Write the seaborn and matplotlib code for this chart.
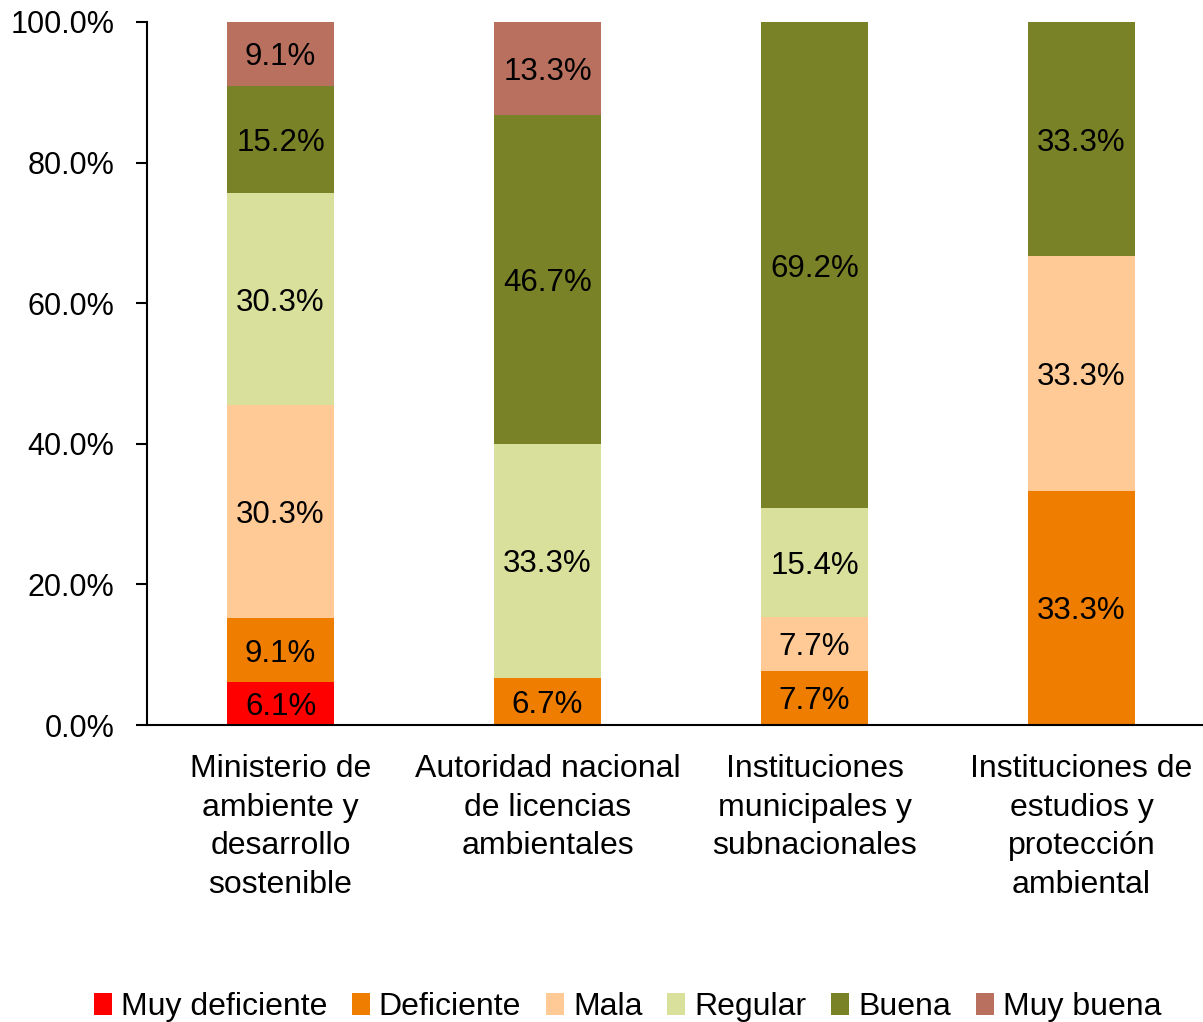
import matplotlib
matplotlib.use("Agg")
import matplotlib.pyplot as plt
import seaborn as sns
import numpy as np
import pandas as pd
from matplotlib.patches import Patch
from matplotlib.ticker import FuncFormatter

categories = [
    "Ministerio de\nambiente y\ndesarrollo\nsostenible",
    "Autoridad nacional\nde licencias\nambientales",
    "Instituciones\nmunicipales y\nsubnacionales",
    "Instituciones de\nestudios y\nprotección\nambiental",
]
series = ["Muy deficiente", "Deficiente", "Mala", "Regular", "Buena", "Muy buena"]
muy_deficiente = [6.1, 0.0, 0.0, 0.0]
deficiente = [9.1, 6.7, 7.7, 33.3]
mala = [30.3, 0.0, 7.7, 33.3]
regular = [30.3, 33.3, 15.4, 0.0]
buena = [15.2, 46.7, 69.2, 33.3]
muy_buena = [9.1, 13.3, 0.0, 0.0]
colors = ["#FF0000", "#EF7D00", "#FFCA95", "#D9E09B", "#7A8228", "#B9705E"]

values = [muy_deficiente, deficiente, mala, regular, buena, muy_buena]

sns.set_theme(style="white")
plt.rcParams["font.family"] = ["Liberation Sans", "DejaVu Sans"]
plt.rcParams["text.color"] = "black"

fig = plt.figure(figsize=(12.03, 10.22), dpi=100)
ax = fig.add_axes([0.1222, 0.2906, 0.8778, 0.6879])

vals = np.array(values)
totals = vals.sum(axis=0)
cum = np.cumsum(vals, axis=0) / totals * 100.0
bottoms = np.vstack([np.zeros(len(categories)), cum[:-1]])

# draw from top layer down so lower layers overlay
for i in reversed(range(len(series))):
    df = pd.DataFrame({"cat": categories, "top": cum[i]})
    sns.barplot(data=df, x="cat", y="top", color=colors[i], width=0.4,
                saturation=1, ax=ax, linewidth=0, edgecolor="none")

for i in range(len(series)):
    for j in range(len(categories)):
        v = vals[i, j]
        if v > 0:
            ax.text(j, (bottoms[i, j] + cum[i, j]) / 2, f"{v:.1f}%",
                    ha="center", va="center_baseline", fontsize=22.5, color="black")

ax.set_xlim(-0.5, 3.455)
ax.set_ylim(0, 100)
ax.set_yticks([0, 20, 40, 60, 80, 100])
ax.yaxis.set_major_formatter(FuncFormatter(lambda v, p: f"{v:.1f}%"))
ax.set_xlabel("")
ax.set_ylabel("")
ax.tick_params(axis="y", labelsize=22, length=8, width=1.5, direction="out",
               left=True, pad=15.5, colors="black")
ax.tick_params(axis="x", labelsize=23, length=0, pad=21, colors="black")
for lab in ax.get_xticklabels():
    lab.set_linespacing(1.37)
for s in ["top", "right"]:
    ax.spines[s].set_visible(False)
for s in ["left", "bottom"]:
    ax.spines[s].set_color("black")
    ax.spines[s].set_linewidth(1.5)

handles = [Patch(facecolor=c, edgecolor="none", label=s) for s, c in zip(series, colors)]
leg = fig.legend(handles=handles, loc="center", bbox_to_anchor=(0.5216, 0.0145), ncol=6,
                 frameon=False, fontsize=23, handlelength=0.56, handleheight=0.7,
                 handletextpad=0.28, columnspacing=0.78, borderaxespad=0)
for t in leg.get_texts():
    t.set_color("black")

fig.savefig("out.png", dpi=100)
